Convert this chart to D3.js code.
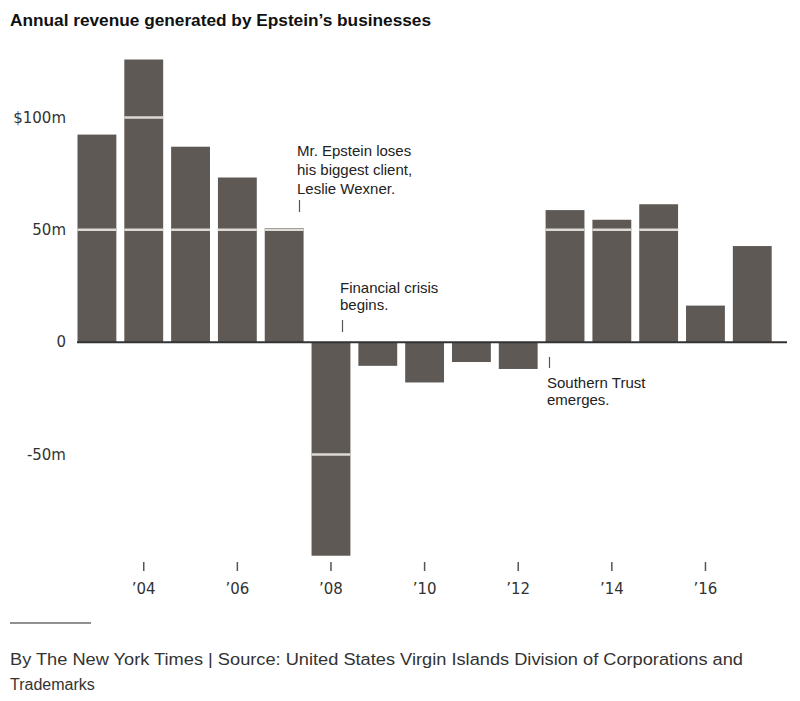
<!DOCTYPE html>
<html>
<head>
<meta charset="utf-8">
<script src="https://cdn.jsdelivr.net/npm/d3@7"></script>
<style>
  body { margin: 0; background: #fff; }
  text { font-family: "Liberation Sans", Arial, sans-serif; }
  .axislab { font-family: "DejaVu Sans", Verdana, sans-serif; }
</style>
</head>
<body>
<div id="chart"></div>
<script>
// data ($ millions)
var years = [2003, 2004, 2005, 2006, 2007, 2008, 2009, 2010, 2011, 2012, 2013, 2014, 2015, 2016, 2017];
var revenue = [92.4, 125.8, 87, 73.3, 50.8, -95, -10.5, -17.9, -8.8, -11.9, 58.8, 54.5, 61.4, 16.3, 42.8];
var yTicks = [-50, 0, 50, 100];
var yTickLabels = ["-50m", "0", "50m", "$100m"];
var xTickYears = [2004, 2006, 2008, 2010, 2012, 2014, 2016];
var noteYears = [2007, 2008, 2013];
var noteTexts = [
  ["Mr. Epstein loses", "his biggest client,", "Leslie Wexner."],
  ["Financial crisis", "begins."],
  ["Southern Trust", "emerges."]
];

var width = 800, height = 701;
var barColor = "#5e5954";

var svg = d3.select("#chart")
  .append("svg")
  .attr("width", width)
  .attr("height", height);

// scales
var x = d3.scaleBand()
  .domain(years)
  .range([77.5, 771.7])
  .paddingInner(0.17)
  .paddingOuter(0);

var y = d3.scaleLinear()
  .domain([-50, 100])
  .range([454.6, 117.5]);

// title
svg.append("text")
  .attr("x", 10)
  .attr("y", 26)
  .attr("textLength", 421)
  .attr("lengthAdjust", "spacingAndGlyphs")
  .style("font-size", "16px")
  .style("font-weight", "bold")
  .style("fill", "#111")
  .text("Annual revenue generated by Epstein\u2019s businesses");

// bars
svg.selectAll("rect.bar")
  .data(years)
  .enter()
  .append("rect")
  .attr("class", "bar")
  .attr("x", function(d) { return x(d); })
  .attr("width", x.bandwidth())
  .attr("y", function(d, i) { return y(Math.max(0, revenue[i])); })
  .attr("height", function(d, i) { return Math.abs(y(revenue[i]) - y(0)); })
  .attr("fill", barColor);

// light gridlines, only across the bars that reach them
yTicks.filter(function(d) { return d !== 0; }).forEach(function(t) {
  svg.selectAll(null)
    .data(years.filter(function(d, i) {
      return (t > 0 && revenue[i] >= t) || (t < 0 && revenue[i] <= t);
    }))
    .enter()
    .append("line")
    .attr("x1", function(d) { return x(d); })
    .attr("x2", function(d) { return x(d) + x.bandwidth(); })
    .attr("y1", y(t))
    .attr("y2", y(t))
    .attr("stroke", "#dedbd6")
    .attr("stroke-width", 2.5);
});

// zero line
svg.append("line")
  .attr("x1", 77)
  .attr("x2", 787)
  .attr("y1", y(0))
  .attr("y2", y(0))
  .attr("stroke", "#333")
  .attr("stroke-width", 2);

// y labels
svg.selectAll("text.ylab")
  .data(yTicks)
  .enter()
  .append("text")
  .attr("class", "ylab axislab")
  .attr("x", 66)
  .attr("y", function(d) { return y(d); })
  .attr("dy", "0.35em")
  .attr("text-anchor", "end")
  .style("font-size", "15px")
  .style("fill", "#333")
  .text(function(d, i) { return yTickLabels[i]; });

// x axis ticks and labels
var xg = svg.append("g");
xg.selectAll("line")
  .data(xTickYears)
  .enter()
  .append("line")
  .attr("x1", function(d) { return x(d) + x.bandwidth() / 2; })
  .attr("x2", function(d) { return x(d) + x.bandwidth() / 2; })
  .attr("y1", 562)
  .attr("y2", 571)
  .attr("stroke", "#555")
  .attr("stroke-width", 1.5);

xg.selectAll("text")
  .data(xTickYears)
  .enter()
  .append("text")
  .attr("class", "axislab")
  .attr("x", function(d) { return x(d) + x.bandwidth() / 2; })
  .attr("y", 594)
  .attr("text-anchor", "middle")
  .style("font-size", "15px")
  .style("fill", "#333")
  .text(function(d) { return "\u2019" + String(d).slice(2); });

// annotations
var noteOffset = [34, 30, 3];   // tick offset from bar left edge
var noteY = [156, 293, 388];
var tickY = [[200, 212], [320, 332], [357, 368]];
noteYears.forEach(function(yr, k) {
  var cx = Math.round(x(yr) + noteOffset[k]);
  var g = svg.append("g");
  g.append("line")
    .attr("x1", cx + 0.5)
    .attr("x2", cx + 0.5)
    .attr("y1", tickY[k][0])
    .attr("y2", tickY[k][1])
    .attr("stroke", "#555")
    .attr("stroke-width", 1.2);
  g.selectAll("text")
    .data(noteTexts[k])
    .enter()
    .append("text")
    .attr("x", cx - 2)
    .attr("y", function(d, j) { return noteY[k] + j * (k === 0 ? 19 : 17); })
    .style("font-size", "15px")
    .style("fill", "#222")
    .text(function(d) { return d; });
});

// footer
svg.append("line")
  .attr("x1", 10)
  .attr("x2", 91)
  .attr("y1", 623)
  .attr("y2", 623)
  .attr("stroke", "#222")
  .attr("stroke-width", 1.2);

svg.append("text")
  .attr("x", 10)
  .attr("y", 665)
  .attr("textLength", 733)
  .attr("lengthAdjust", "spacingAndGlyphs")
  .style("font-size", "16px")
  .style("fill", "#333")
  .text("By The New York Times |  Source: United States Virgin Islands Division of Corporations and");

svg.append("text")
  .attr("x", 10)
  .attr("y", 690)
  .style("font-size", "16px")
  .style("fill", "#333")
  .text("Trademarks");
</script>
</body>
</html>
